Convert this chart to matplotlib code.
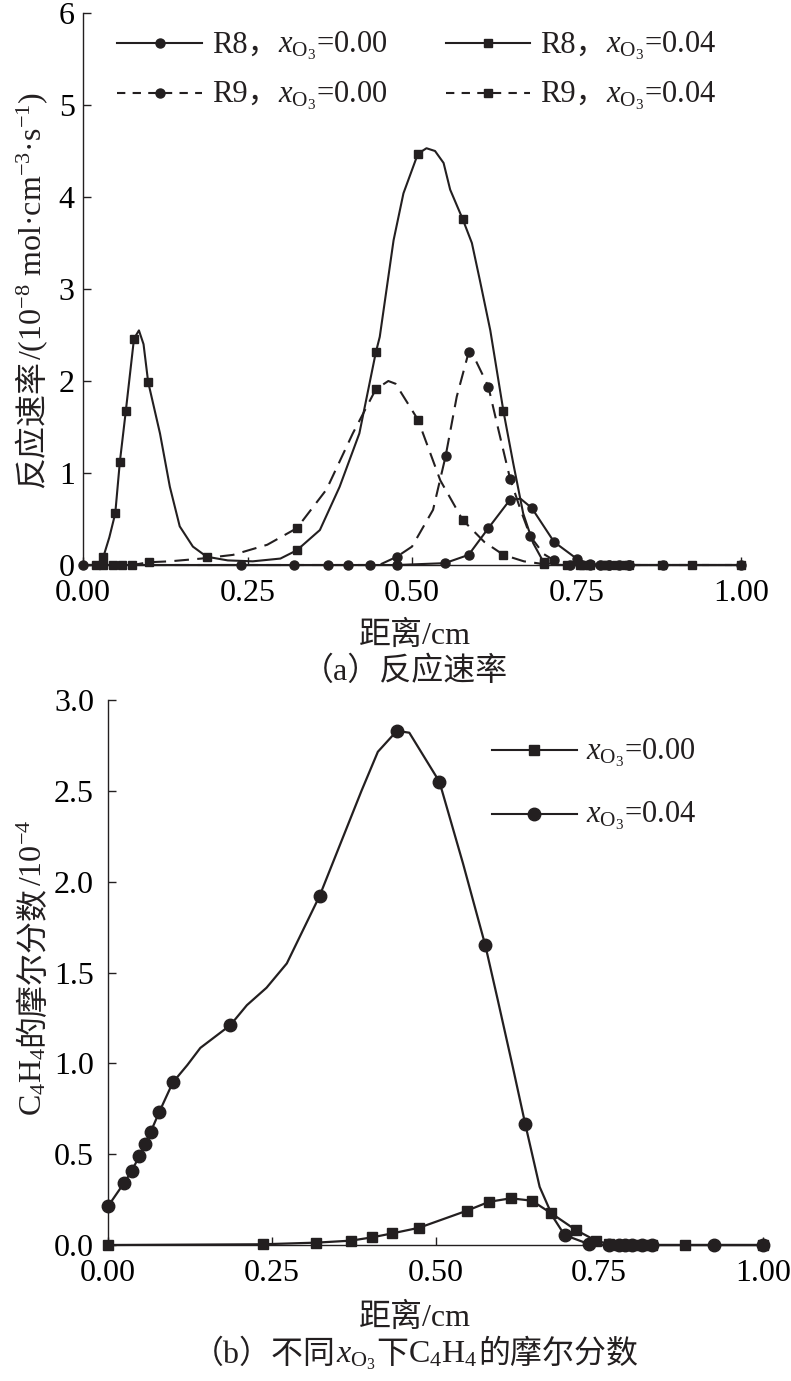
import matplotlib

matplotlib.use("Agg")
import matplotlib.pyplot as plt
from matplotlib.lines import Line2D
from matplotlib.offsetbox import (AnchoredOffsetbox, DrawingArea, HPacker,
                                  TextArea, VPacker)

plt.rcParams["font.family"] = ["Liberation Serif", "Noto Sans CJK SC"]
plt.rcParams["mathtext.fontset"] = "custom"
plt.rcParams["mathtext.rm"] = "Liberation Serif"
plt.rcParams["mathtext.it"] = "Liberation Serif:italic"

INK = "#231f20"

# ---- (a) 反应速率 ----
# R8, x_O3 = 0.00 (实线, 圆点)
r8_00_x = [0.0, 0.03, 0.06, 0.10, 0.24, 0.32, 0.373, 0.403, 0.436, 0.477, 0.55, 0.586,
           0.616, 0.649, 0.665, 0.682, 0.716, 0.75, 0.77, 0.785, 0.80, 0.815, 0.83, 0.882, 1.0]
r8_00_y = [0, 0, 0, 0, 0, 0, 0, 0, 0, 0, 0.02, 0.11,
           0.40, 0.71, 0.72, 0.62, 0.25, 0.07, 0.01, 0, 0, 0, 0, 0, 0]
r8_00_mk = [0, 4, 5, 6, 7, 8, 9, 10, 11, 12, 13, 15, 16, 17, 18, 19, 20, 21, 22, 23, 24]

# R8, x_O3 = 0.04 (实线, 方块)
r8_04_x = [0.0, 0.015, 0.025, 0.031, 0.040, 0.049, 0.056, 0.065, 0.0775, 0.085, 0.092, 0.099,
           0.117, 0.132, 0.147, 0.167, 0.188, 0.22, 0.258, 0.30, 0.325, 0.36, 0.39, 0.42, 0.445,
           0.451, 0.472, 0.487, 0.509, 0.522, 0.535, 0.548, 0.558, 0.577, 0.591, 0.603, 0.619,
           0.639, 0.654, 0.669, 0.684, 0.70, 0.72, 0.735, 0.755, 0.77, 0.79, 0.81, 0.83, 0.925, 1.0]
r8_04_y = [0, 0, 0, 0.09, 0.30, 0.56, 1.12, 1.67, 2.46, 2.55, 2.40, 1.99,
           1.43, 0.85, 0.42, 0.20, 0.09, 0.05, 0.04, 0.07, 0.16, 0.38, 0.85, 1.43, 2.31,
           2.48, 3.53, 4.04, 4.47, 4.53, 4.50, 4.37, 4.08, 3.76, 3.50, 3.10, 2.55,
           1.67, 1.10, 0.56, 0.24, 0.03, 0, 0, 0, 0, 0, 0, 0, 0, 0]
r8_04_mk = [3, 5, 6, 7, 8, 11, 16, 20, 24, 28, 33, 37, 41, 43, 44, 45, 46, 47, 48, 49, 50]

# R9, x_O3 = 0.00 (虚线, 圆点)
r9_00_x = [0.0, 0.05, 0.10, 0.24, 0.45, 0.477, 0.50, 0.532, 0.551, 0.568, 0.586, 0.593,
           0.616, 0.632, 0.649, 0.665, 0.680, 0.70, 0.716, 0.74, 0.77, 0.80, 0.83, 1.0]
r9_00_y = [0, 0, 0, 0, 0, 0.09, 0.20, 0.60, 1.18, 1.83, 2.31, 2.28,
           1.94, 1.45, 0.94, 0.60, 0.31, 0.12, 0.05, 0, 0, 0, 0, 0]
r9_00_mk = [5, 8, 10, 12, 14, 16, 18, 19, 20, 21, 22]

# R9, x_O3 = 0.04 (虚线, 方块)
r9_04_x = [0.0, 0.02, 0.03, 0.045, 0.06, 0.075, 0.10, 0.132, 0.18, 0.228, 0.28, 0.325,
           0.37, 0.41, 0.445, 0.464, 0.475, 0.509, 0.543, 0.577, 0.61, 0.639, 0.67, 0.70,
           0.73, 0.76, 0.79, 0.82, 0.88, 1.0]
r9_04_y = [0, 0, 0, 0, 0, 0, 0.03, 0.04, 0.07, 0.11, 0.22, 0.40,
           0.82, 1.43, 1.91, 2.00, 1.97, 1.58, 0.92, 0.49, 0.25, 0.11, 0.04, 0.01,
           0, 0, 0, 0, 0, 0]
r9_04_mk = [1, 2, 3, 4, 5, 6, 11, 14, 17, 19, 21, 23, 25, 26, 27, 28]

# ---- (b) C4H4 摩尔分数 ----
b00_x = [0.0, 0.236, 0.318, 0.371, 0.403, 0.434, 0.475, 0.548, 0.582, 0.615, 0.647, 0.677,
         0.714, 0.745, 0.765, 0.78, 0.79, 0.80, 0.815, 0.83, 0.881, 1.0]
b00_y = [0, 0.004, 0.013, 0.024, 0.042, 0.064, 0.095, 0.189, 0.238, 0.257, 0.244, 0.174,
         0.083, 0.024, 0.005, 0, 0, 0, 0, 0, 0, 0]

b04_x = [0.0, 0.025, 0.036, 0.048, 0.056, 0.065, 0.078, 0.099, 0.121, 0.141, 0.187, 0.212,
         0.242, 0.273, 0.323, 0.387, 0.412, 0.441, 0.46, 0.506, 0.542, 0.576, 0.595, 0.618,
         0.637, 0.659, 0.679, 0.697, 0.734, 0.765, 0.78, 0.79, 0.80, 0.815, 0.83, 0.925, 1.0]
b04_y = [0.213, 0.344, 0.407, 0.49, 0.558, 0.621, 0.73, 0.895, 0.99, 1.085, 1.211, 1.32,
         1.416, 1.55, 1.921, 2.50, 2.715, 2.83, 2.82, 2.55, 2.10, 1.65, 1.35, 0.98,
         0.666, 0.32, 0.156, 0.055, 0.005, 0, 0, 0, 0, 0, 0, 0, 0]
b04_mk = [0, 1, 2, 3, 4, 5, 6, 7, 10, 14, 17, 19, 21, 24, 27, 28, 29, 30, 31, 32, 33, 34, 35, 36]

xticks = [0.0, 0.25, 0.5, 0.75, 1.0]
xticklabels = ["0.00", "0.25", "0.50", "0.75", "1.00"]

XO3 = r"$x_{\mathrm{O}_3}$"
FS = 23
FS_L = 22
DASH = (0, (7, 4))

fig = plt.figure(figsize=(7.91, 13.81), dpi=100)
W, H = 791, 1381
renderer = fig.canvas.get_renderer()


def style_axes(ax, ypad):
    ax.spines["top"].set_visible(False)
    ax.spines["right"].set_visible(False)
    for s in ("left", "bottom"):
        ax.spines[s].set_linewidth(1.0)
        ax.spines[s].set_color(INK)
    ax.tick_params(direction="in", length=6, width=1.0, color=INK, labelsize=FS)
    ax.tick_params(axis="x", pad=10)
    ax.tick_params(axis="y", pad=ypad)
    ax.set_xlim(0, 1)
    ax.set_xticks(xticks)
    ax.set_xticklabels(xticklabels)


def mixed_text(parts, xc, yc, rotation=0, fs=FS):
    """中文和公式分段拼接, (xc, yc) 为中心, 像素坐标从左上角算"""
    texts, widths = [], []
    for p in parts:
        t = fig.text(0, 0, p, fontsize=fs, ha="left", va="baseline",
                     rotation_mode="anchor", color=INK)
        widths.append(t.get_window_extent(renderer).width)
        texts.append(t)
    total = sum(widths)
    shift = 0.36 * fs * 100 / 72
    pos = -total / 2
    for t, w in zip(texts, widths):
        if rotation:
            t.set_rotation(90)
            t.set_position(((xc + shift) / W, (H - yc + pos) / H))
        else:
            t.set_position(((xc + pos) / W, (H - yc - shift) / H))
        pos += w


def legend_row(ls, marker, ms, parts, hlen=61):
    da = DrawingArea(hlen, 0.75 * FS_L, 0, 0.2 * FS_L)
    y0 = 0.3 * FS_L
    da.add_artist(Line2D([0, hlen], [y0, y0], color=INK, lw=1.5, linestyle=ls))
    da.add_artist(Line2D([hlen / 2], [y0], color=INK, marker=marker, ms=ms, linestyle="none"))
    words = HPacker(children=[TextArea(p, textprops=dict(fontsize=FS_L, color=INK)) for p in parts],
                    align="baseline", pad=0, sep=0)
    return HPacker(children=[da, words], align="baseline", pad=0, sep=7)


def put_legend(ax, columns, anchor, row_sep, col_sep):
    cols = [VPacker(children=c, align="left", pad=0, sep=row_sep) for c in columns]
    box = HPacker(children=cols, align="top", pad=0, sep=col_sep)
    ab = AnchoredOffsetbox(loc="upper left", child=box, pad=0, borderpad=0, frameon=False,
                           bbox_to_anchor=anchor, bbox_transform=ax.transAxes)
    ax.add_artist(ab)


# 上图
ax1 = fig.add_axes([83 / W, 1 - 565 / H, 658 / W, 552 / H])
ax1.plot(r8_00_x, r8_00_y, "-", color=INK, lw=1.5, marker="o", ms=6.5,
         markevery=r8_00_mk, clip_on=False)
ax1.plot(r8_04_x, r8_04_y, "-", color=INK, lw=1.5, marker="s", ms=5.5,
         markevery=r8_04_mk, clip_on=False)
ax1.plot(r9_00_x, r9_00_y, linestyle=DASH, color=INK, lw=1.5, marker="o", ms=6.5,
         markevery=r9_00_mk, clip_on=False)
ax1.plot(r9_04_x, r9_04_y, linestyle=DASH, color=INK, lw=1.5, marker="s", ms=5.5,
         markevery=r9_04_mk, clip_on=False)
style_axes(ax1, 6)
ax1.set_ylim(0, 6)
ax1.set_yticks(range(7))
put_legend(ax1, [
    [legend_row("-", "o", 6.5, ["R8，", XO3 + "=0.00"]),
     legend_row((0, (4, 3.5)), "o", 6.5, ["R9，", XO3 + "=0.00"])],
    [legend_row("-", "s", 5.5, ["R8，", XO3 + "=0.04"]),
     legend_row((0, (4, 3.5)), "s", 5.5, ["R9，", XO3 + "=0.04"])],
], (0.052, 0.970), 12, 42)

# 下图
ax2 = fig.add_axes([108 / W, 1 - 1245 / H, 655 / W, 545 / H])
ax2.plot(b00_x, b00_y, "-", color=INK, lw=1.6, marker="s", ms=7.5, clip_on=False)
ax2.plot(b04_x, b04_y, "-", color=INK, lw=1.6, marker="o", ms=9,
         markevery=b04_mk, clip_on=False)
style_axes(ax2, 10)
ax2.set_ylim(0, 3)
ax2.set_yticks([0, 0.5, 1.0, 1.5, 2.0, 2.5, 3.0])
ax2.set_yticklabels(["0.0", "0.5", "1.0", "1.5", "2.0", "2.5", "3.0"])
put_legend(ax2, [
    [legend_row("-", "s", 7.5, [XO3 + "=0.00"]),
     legend_row("-", "o", 9, [XO3 + "=0.04"])],
], (0.586, 0.933), 22, 0)

# 轴标题与图注
mixed_text(["反应速率", r"/(10$^{-8}$ mol·cm$^{-3}$·s$^{-1}$)"], 30, 290, rotation=90)
mixed_text(["C$_4$H$_4$", "的摩尔分数", "/10$^{-4}$"], 30, 968, rotation=90)
mixed_text(["距离/cm"], 415, 632)
mixed_text(["（a）反应速率"], 405, 668)
mixed_text(["距离/cm"], 415, 1314)
mixed_text(["（b）不同", XO3, "下", "C$_4$H$_4$", "的摩尔分数"], 415, 1351)

fig.savefig("out.png", dpi=100)
